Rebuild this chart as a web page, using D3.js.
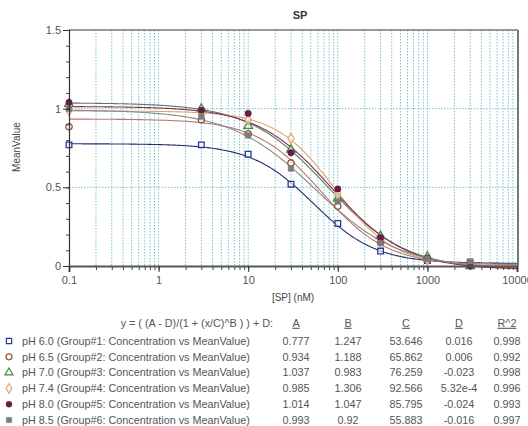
<!DOCTYPE html>
<html>
<head>
<meta charset="utf-8">
<script src="https://cdn.jsdelivr.net/npm/d3@7"></script>
<style>
  body { margin: 0; background: #fff; }
  svg { display: block; font-family: "Liberation Sans", Arial, sans-serif; }
</style>
</head>
<body>
<svg id="chart"></svg>
<script>
const width = 528;
const height = 426;

// measured concentrations (nM)
const concentrations = [0.1, 3, 10, 30, 100, 300, 1000, 3000];

// mean values per pH group
const pH60 = [0.77, 0.77, 0.71, 0.52, 0.27, 0.095, 0.035, 0.02];
const pH65 = [0.885, 0.93, 0.84, 0.655, 0.38, 0.15, 0.04, 0.015];
const pH70 = [1.03, 1.0, 0.89, 0.74, 0.43, 0.19, 0.06, 0.0];
const pH74 = [0.99, 0.97, 0.93, 0.81, 0.46, 0.17, 0.04, 0.01];
const pH80 = [1.04, 0.99, 0.97, 0.72, 0.49, 0.18, 0.05, 0.0];
const pH85 = [1.0, 0.95, 0.83, 0.62, 0.41, 0.145, 0.045, 0.03];

const seriesNames = ["pH 6.0", "pH 6.5", "pH 7.0", "pH 7.4", "pH 8.0", "pH 8.5"];

// 4PL fit parameters from the table
const paramA = [0.777, 0.934, 1.037, 0.985, 1.014, 0.993];
const paramB = [1.247, 1.188, 0.983, 1.306, 1.047, 0.92];
const paramC = [53.646, 65.862, 76.259, 92.566, 85.795, 55.883];
const paramD = [0.016, 0.006, -0.023, 5.32e-4, -0.024, -0.016];

const labelA = ["0.777", "0.934", "1.037", "0.985", "1.014", "0.993"];
const labelB = ["1.247", "1.188", "0.983", "1.306", "1.047", "0.92"];
const labelC = ["53.646", "65.862", "76.259", "92.566", "85.795", "55.883"];
const labelD = ["0.016", "0.006", "-0.023", "5.32e-4", "-0.024", "-0.016"];
const labelR2 = ["0.998", "0.992", "0.998", "0.996", "0.993", "0.997"];

const xTicks = [0.1, 1, 10, 100, 1000, 10000];
const yTicks = [0, 0.5, 1, 1.5];

const markerColor = ["#2b3a8f", "#9a4a3c", "#3f8a46", "#e5a870", "#6e1848", "#7c7c7c"];
const lineColor = ["#24306e", "#b57a72", "#5d7b5b", "#d9a66a", "#8a2d5a", "#8a8a8a"];
const symbols = [d3.symbolSquare, d3.symbolCircle, d3.symbolTriangle, d3.symbolDiamond, d3.symbolCircle, d3.symbolSquare];
const filled = [false, false, false, false, true, true];

const values = [pH60, pH65, pH70, pH74, pH80, pH85];

const svg = d3.select("#chart").attr("width", width).attr("height", height);

const x = d3.scaleLog().domain([0.1, 10000]).range([69, 517]);
const y = d3.scaleLinear().domain([0, 1.5]).range([266, 30]);

const grid = "#7cc2c6";

// vertical grid on every log tick
const logTicks = x.ticks().filter(t => t > 0.1 && t < 10000);
svg.append("g").selectAll("line")
  .data(logTicks)
  .join("line")
  .attr("x1", d => x(d)).attr("x2", d => x(d))
  .attr("y1", y(1.5)).attr("y2", y(0))
  .attr("stroke", grid)
  .attr("stroke-width", 1)
  .attr("stroke-dasharray", "1.5,1.5");

svg.append("g").selectAll("line")
  .data([0.5, 1])
  .join("line")
  .attr("x1", x(0.1)).attr("x2", x(10000))
  .attr("y1", d => y(d)).attr("y2", d => y(d))
  .attr("stroke", grid)
  .attr("stroke-width", 1)
  .attr("stroke-dasharray", "1.5,1.5");

// frame: top and right
svg.append("line")
  .attr("x1", x(0.1)).attr("x2", x(10000) + 1)
  .attr("y1", y(1.5)).attr("y2", y(1.5))
  .attr("stroke", "#777").attr("stroke-width", 1.5);
svg.append("line")
  .attr("x1", x(10000) + 1).attr("x2", x(10000) + 1)
  .attr("y1", y(1.5)).attr("y2", y(0))
  .attr("stroke", "#777").attr("stroke-width", 2);

// fitted curves
const fit = i => v => (paramA[i] - paramD[i]) / (1 + Math.pow(v / paramC[i], paramB[i])) + paramD[i];
const xs = d3.range(0, 301).map(k => Math.pow(10, -1 + k * 5 / 300));
const line = d3.line().x(d => x(d[0])).y(d => y(d[1]));

const g = svg.append("g");
seriesNames.forEach((name, i) => {
  const f = fit(i);
  g.append("path")
    .datum(xs.map(v => [v, f(v)]))
    .attr("d", line)
    .attr("fill", "none")
    .attr("stroke", lineColor[i])
    .attr("stroke-width", 1.1);
});

// data points
seriesNames.forEach((name, i) => {
  const sym = d3.symbol().type(symbols[i]).size(symbols[i] === d3.symbolTriangle ? 32 : 32);
  g.append("g").selectAll("path")
    .data(concentrations.map((c, k) => [c, values[i][k]]))
    .join("path")
    .attr("transform", d => `translate(${x(d[0])},${y(d[1])})`)
    .attr("d", sym)
    .attr("fill", filled[i] ? markerColor[i] : "#fff")
    .attr("fill-opacity", filled[i] ? 1 : 0.6)
    .attr("stroke", markerColor[i])
    .attr("stroke-width", filled[i] ? 0.5 : 1.3);
});

// axes
const yAxis = d3.axisLeft(y).tickValues(yTicks).tickSize(6).tickFormat(d3.format("~g"));
const yMinor = d3.axisLeft(y).tickValues(d3.range(0, 15).map(k => k / 10)).tickSize(3).tickFormat("");
svg.append("g").attr("transform", `translate(${x(0.1)},0)`).call(yMinor)
  .call(a => a.select(".domain").remove())
  .selectAll("line").attr("stroke", "#444");
const ya = svg.append("g").attr("transform", `translate(${x(0.1)},0)`).call(yAxis);
ya.select(".domain").attr("stroke", "#333").attr("stroke-width", 1.2);
ya.selectAll("line").attr("stroke", "#333");
ya.selectAll("text").attr("fill", "#555").style("font-size", "11px").attr("x", -8);

const xMinor = d3.axisBottom(x).tickValues(logTicks).tickSize(4).tickFormat("");
svg.append("g").attr("transform", `translate(0,${y(0)})`).call(xMinor)
  .call(a => a.select(".domain").remove())
  .selectAll("line").attr("stroke", "#444");
const xAxis = d3.axisBottom(x).tickValues(xTicks).tickSize(6).tickFormat(d3.format("~g"));
const xa = svg.append("g").attr("transform", `translate(0,${y(0)})`).call(xAxis);
xa.select(".domain").attr("stroke", "#555").attr("stroke-width", 2);
xa.selectAll("line").attr("stroke", "#333");
xa.selectAll("text").attr("fill", "#555").style("font-size", "11px").attr("y", 10);

// titles
svg.append("text")
  .attr("x", 300).attr("y", 19)
  .attr("text-anchor", "middle")
  .style("font-size", "11px").style("font-weight", "bold")
  .attr("fill", "#333")
  .text("SP");

svg.append("text")
  .attr("transform", "translate(20,147) rotate(-90)")
  .attr("text-anchor", "middle")
  .style("font-size", "10px")
  .attr("fill", "#444")
  .text("MeanValue");

svg.append("text")
  .attr("x", 293).attr("y", 301)
  .attr("text-anchor", "middle")
  .style("font-size", "10px")
  .attr("fill", "#444")
  .text("[SP] (nM)");

// legend table
const leg = svg.append("g").style("font-size", "10.8px").attr("fill", "#555");
const rowY = i => 341 + i * 15.8;

leg.append("text")
  .attr("x", 273).attr("y", 323).attr("dy", "0.35em")
  .attr("text-anchor", "end")
  .text("y = ( (A - D)/(1 + (x/C)^B ) ) + D:");

const cols = [
  { head: "A", x: 296, vals: labelA },
  { head: "B", x: 348, vals: labelB },
  { head: "C", x: 406, vals: labelC },
  { head: "D", x: 459, vals: labelD },
  { head: "R^2", x: 507, vals: labelR2 }
];
cols.forEach(c => {
  leg.append("text")
    .attr("x", c.x).attr("y", 323).attr("dy", "0.35em")
    .attr("text-anchor", "middle")
    .style("text-decoration", "underline")
    .text(c.head);
  leg.append("g").selectAll("text")
    .data(c.vals)
    .join("text")
    .attr("x", c.x).attr("y", (d, i) => rowY(i)).attr("dy", "0.35em")
    .attr("text-anchor", "middle")
    .text(d => d);
});

seriesNames.forEach((name, i) => {
  const sym = d3.symbol().type(symbols[i]).size(28);
  leg.append("path")
    .attr("transform", `translate(9,${rowY(i)})`)
    .attr("d", sym)
    .attr("fill", filled[i] ? markerColor[i] : "#fff")
    .attr("stroke", markerColor[i])
    .attr("stroke-width", filled[i] ? 0.5 : 1.2);
  leg.append("text")
    .attr("x", 22).attr("y", rowY(i)).attr("dy", "0.35em")
    .text(`${name} (Group#${i + 1}: Concentration vs MeanValue)`);
});
</script>
</body>
</html>
